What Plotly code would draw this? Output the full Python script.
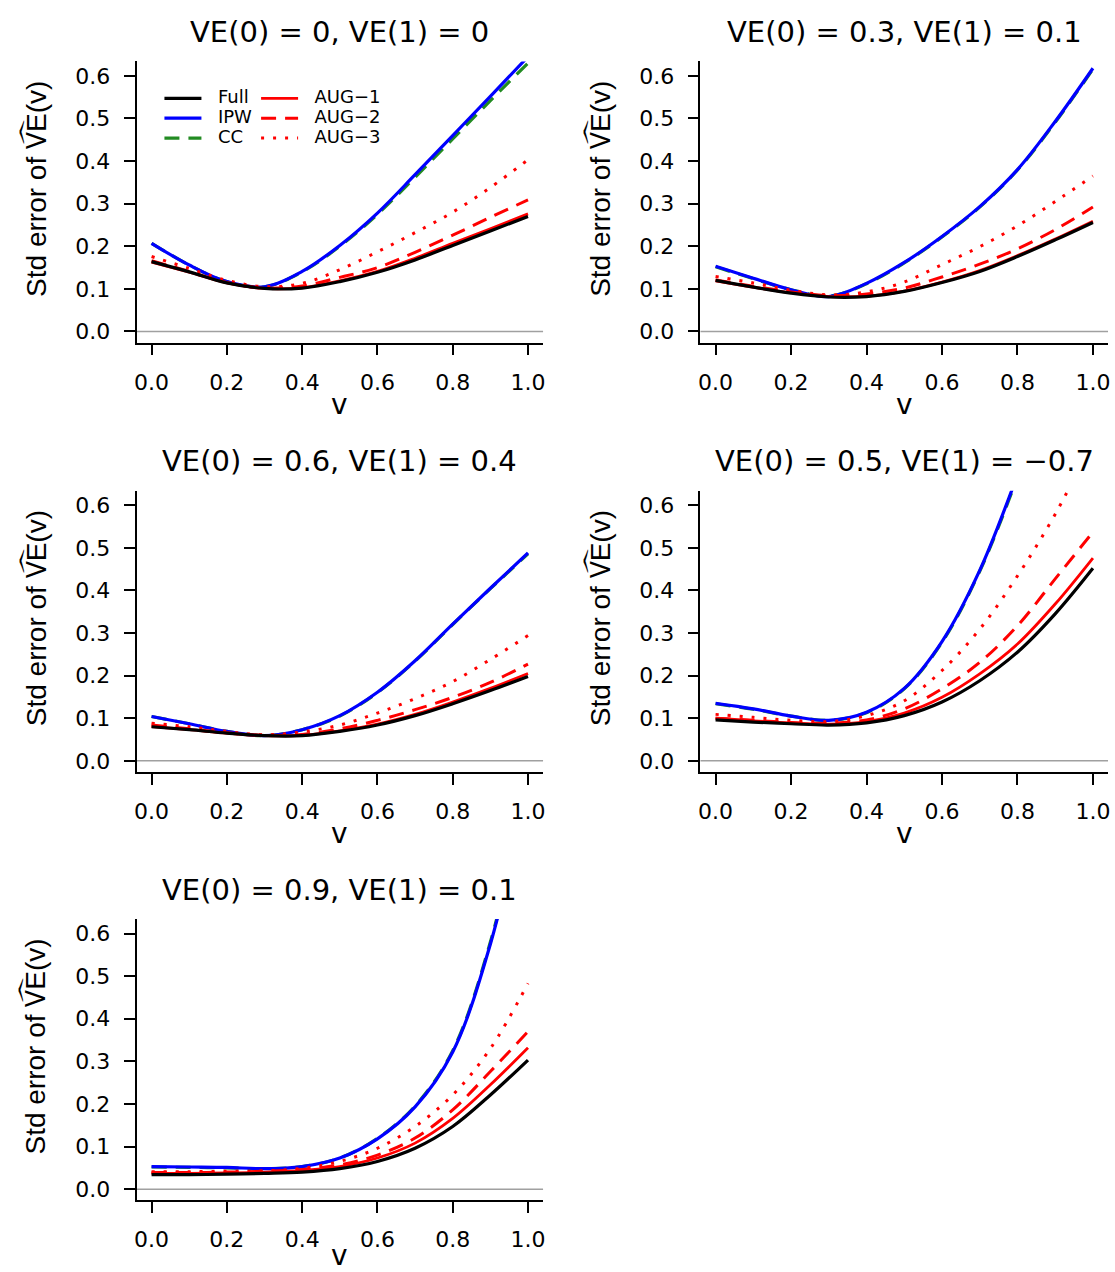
import plotly.graph_objects as go

# ---------------- data ----------------
v = [0.0, 0.1, 0.2, 0.3, 0.4, 0.5, 0.6, 0.7, 0.8, 0.9, 1.0]

titles = [
    "VE(0) = 0, VE(1) = 0",
    "VE(0) = 0.3, VE(1) = 0.1",
    "VE(0) = 0.6, VE(1) = 0.4",
    "VE(0) = 0.5, VE(1) = \u22120.7",
    "VE(0) = 0.9, VE(1) = 0.1",
]

series_names = ["Full", "IPW", "CC", "AUG\u22121", "AUG\u22122", "AUG\u22123"]

# panel 1: VE(0)=0, VE(1)=0
p1_full = [0.164, 0.140, 0.114, 0.101, 0.102, 0.117, 0.139, 0.168, 0.202, 0.236, 0.270]
p1_ipw  = [0.207, 0.156, 0.117, 0.105, 0.141, 0.202, 0.278, 0.368, 0.460, 0.552, 0.645]
p1_cc   = [0.207, 0.156, 0.117, 0.105, 0.140, 0.200, 0.275, 0.362, 0.452, 0.542, 0.630]
p1_aug1 = [0.163, 0.139, 0.114, 0.101, 0.103, 0.119, 0.141, 0.172, 0.207, 0.241, 0.276]
p1_aug2 = [0.166, 0.141, 0.115, 0.102, 0.107, 0.127, 0.150, 0.186, 0.226, 0.268, 0.309]
p1_aug3 = [0.176, 0.148, 0.120, 0.105, 0.113, 0.145, 0.187, 0.232, 0.280, 0.338, 0.403]

# panel 2: VE(0)=0.3, VE(1)=0.1
p2_full = [0.120, 0.104, 0.090, 0.081, 0.082, 0.094, 0.115, 0.141, 0.176, 0.215, 0.256]
p2_ipw  = [0.153, 0.125, 0.098, 0.082, 0.113, 0.162, 0.223, 0.293, 0.380, 0.493, 0.618]
p2_cc   = [0.152, 0.124, 0.098, 0.083, 0.112, 0.161, 0.222, 0.292, 0.379, 0.491, 0.616]
p2_aug1 = [0.119, 0.104, 0.091, 0.082, 0.083, 0.095, 0.116, 0.143, 0.178, 0.217, 0.259]
p2_aug2 = [0.121, 0.106, 0.093, 0.084, 0.088, 0.102, 0.128, 0.158, 0.194, 0.239, 0.292]
p2_aug3 = [0.129, 0.114, 0.097, 0.086, 0.093, 0.116, 0.157, 0.199, 0.248, 0.305, 0.365]

# panel 3: VE(0)=0.6, VE(1)=0.4
p3_full = [0.080, 0.073, 0.065, 0.059, 0.059, 0.069, 0.084, 0.106, 0.134, 0.165, 0.198]
p3_ipw  = [0.104, 0.087, 0.069, 0.059, 0.073, 0.106, 0.161, 0.235, 0.321, 0.405, 0.488]
p3_cc   = [0.104, 0.087, 0.069, 0.059, 0.073, 0.105, 0.160, 0.234, 0.320, 0.404, 0.486]
p3_aug1 = [0.080, 0.073, 0.065, 0.059, 0.060, 0.070, 0.086, 0.109, 0.138, 0.170, 0.205]
p3_aug2 = [0.084, 0.075, 0.066, 0.060, 0.062, 0.075, 0.095, 0.120, 0.149, 0.184, 0.227]
p3_aug3 = [0.088, 0.080, 0.069, 0.061, 0.068, 0.084, 0.112, 0.146, 0.186, 0.238, 0.294]

# panel 4: VE(0)=0.5, VE(1)=-0.7
p4_full = [0.096, 0.091, 0.087, 0.084, 0.089, 0.106, 0.138, 0.188, 0.255, 0.345, 0.452]
p4_ipw  = [0.135, 0.122, 0.105, 0.095, 0.114, 0.170, 0.280, 0.447, 0.670, 0.910, 1.160]
p4_cc   = [0.134, 0.121, 0.105, 0.095, 0.113, 0.169, 0.278, 0.445, 0.665, 0.905, 1.150]
p4_aug1 = [0.100, 0.094, 0.089, 0.086, 0.092, 0.112, 0.149, 0.204, 0.274, 0.368, 0.476]
p4_aug2 = [0.100, 0.095, 0.090, 0.088, 0.096, 0.122, 0.169, 0.231, 0.317, 0.427, 0.537]
p4_aug3 = [0.109, 0.102, 0.095, 0.092, 0.106, 0.141, 0.212, 0.309, 0.434, 0.579, 0.750]

# panel 5: VE(0)=0.9, VE(1)=0.1
p5_full = [0.034, 0.034, 0.035, 0.037, 0.040, 0.048, 0.065, 0.096, 0.147, 0.221, 0.303]
p5_ipw  = [0.053, 0.052, 0.051, 0.048, 0.053, 0.073, 0.118, 0.193, 0.322, 0.575, 0.950]
p5_cc   = [0.052, 0.051, 0.050, 0.048, 0.053, 0.073, 0.119, 0.195, 0.325, 0.580, 0.955]
p5_aug1 = [0.037, 0.037, 0.038, 0.040, 0.044, 0.053, 0.073, 0.108, 0.166, 0.245, 0.332]
p5_aug2 = [0.039, 0.039, 0.040, 0.042, 0.046, 0.057, 0.080, 0.120, 0.186, 0.276, 0.370]
p5_aug3 = [0.041, 0.041, 0.042, 0.043, 0.049, 0.065, 0.096, 0.147, 0.221, 0.330, 0.483]

y_ticks = [0.0, 0.1, 0.2, 0.3, 0.4, 0.5, 0.6]
x_ticks = [0.0, 0.2, 0.4, 0.6, 0.8, 1.0]

panels = [
    [p1_full, p1_ipw, p1_cc, p1_aug1, p1_aug2, p1_aug3],
    [p2_full, p2_ipw, p2_cc, p2_aug1, p2_aug2, p2_aug3],
    [p3_full, p3_ipw, p3_cc, p3_aug1, p3_aug2, p3_aug3],
    [p4_full, p4_ipw, p4_cc, p4_aug1, p4_aug2, p4_aug3],
    [p5_full, p5_ipw, p5_cc, p5_aug1, p5_aug2, p5_aug3],
]

# ---------------- style ----------------
FONT = "DejaVu Sans, Verdana, sans-serif"
FONT_Y = "Liberation Sans, Arial, Helvetica, sans-serif"
W, H = 1115, 1272

styles = [
    dict(color="#000000", dash="solid", width=3.2),        # Full
    dict(color="#0000FF", dash="solid", width=3.2),        # IPW
    dict(color="#228B22", dash="15px,9px", width=3.2),     # CC
    dict(color="#FF0000", dash="solid", width=2.8),        # AUG-1
    dict(color="#FF0000", dash="15px,9px", width=3.0),     # AUG-2
    dict(color="#FF0000", dash="3px,9px", width=3.0),      # AUG-3
]
legend_of = ["legend", "legend", "legend", "legend2", "legend2", "legend2"]
legend_rank = [1, 2, 3, 1, 2, 3]
draw_order = [2, 1, 5, 4, 3, 0]

# pixel layout of plotting regions (left, right, top, bottom)
col_px = [(135, 543), (701, 1110)]
row_px = [(61.5, 343.1), (491.5, 773.1), (920.5, 1202.1)]
xlab_off = [62, 62, 55]
cells = [(0, 0), (0, 1), (1, 0), (1, 1), (2, 0)]

fig = go.Figure()

for k, (r, c) in enumerate(cells):
    xa = "x" if k == 0 else f"x{k+1}"
    ya = "y" if k == 0 else f"y{k+1}"
    for i in draw_order:
        st = styles[i]
        fig.add_trace(go.Scatter(
            x=v, y=panels[k][i], mode="lines",
            name=f'<span style="font-size:18px">\u00a0\u00a0{series_names[i]}</span>',
            line=dict(color=st["color"], dash=st["dash"], width=st["width"], shape="spline", smoothing=1.0),
            xaxis=xa, yaxis=ya, showlegend=(k == 0),
            legend=legend_of[i], legendrank=legend_rank[i], hoverinfo="skip",
        ))

    x0, x1 = col_px[c]
    t0, b0 = row_px[r]
    xdom = [x0 / W, x1 / W]
    ydom = [1 - b0 / H, 1 - t0 / H]
    axis_common = dict(showline=True, linecolor="black", linewidth=1.5, ticks="outside",
                       ticklen=11, tickwidth=1.5, tickcolor="black", showgrid=False,
                       zeroline=False, tickfont=dict(family=FONT, size=22, color="black"))
    xkey = "xaxis" if k == 0 else f"xaxis{k+1}"
    ykey = "yaxis" if k == 0 else f"yaxis{k+1}"
    fig.update_layout(**{
        xkey: dict(domain=xdom, anchor=ya, range=[-0.04, 1.04], tickvals=x_ticks,
                   tickformat=".1f", ticklabelstandoff=8, **axis_common),
        ykey: dict(domain=ydom, anchor=xa, range=[-0.026, 0.634], tickvals=y_ticks,
                   tickformat=".1f", ticklabelstandoff=9, **axis_common),
    })
    # grey reference line at zero
    fig.add_shape(type="line", xref=f"{xa} domain", x0=0, x1=1, yref=ya, y0=0, y1=0,
                  line=dict(color="#A0A0A0", width=1.5), layer="below")
    # panel title
    cx = (x0 + x1) / 2 / W
    fig.add_annotation(text=titles[k], x=cx, y=1 - (t0 - 29.5) / H, xref="paper", yref="paper",
                       xanchor="center", yanchor="middle", showarrow=False,
                       font=dict(family=FONT, size=29, color="black"))
    # y label
    fig.add_annotation(text="Std error of V\u1DCDE(v)", x=(x0 - 102) / W,
                       y=1 - ((t0 + b0) / 2 - 13) / H,
                       xref="paper", yref="paper", xanchor="center", yanchor="middle",
                       textangle=-90, showarrow=False,
                       font=dict(family=FONT_Y, size=28, color="black"))
    # x label
    fig.add_annotation(text="v", x=cx, y=1 - (b0 + xlab_off[r]) / H, xref="paper", yref="paper",
                       xanchor="center", yanchor="middle", showarrow=False,
                       font=dict(family=FONT, size=28, color="black"))

leg_common = dict(bgcolor="rgba(0,0,0,0)", borderwidth=0, xanchor="left", yanchor="top",
                  font=dict(family=FONT, size=13, color="black"), itemwidth=37,
                  tracegroupgap=0, traceorder="normal")
fig.update_layout(
    width=W, height=H, margin=dict(l=0, r=0, t=0, b=0),
    paper_bgcolor="white", plot_bgcolor="white",
    legend=dict(x=158 / W, y=1 - 83.5 / H, **leg_common),
    legend2=dict(x=255 / W, y=1 - 83.5 / H, **leg_common),
    font=dict(family=FONT, color="black"),
)

fig.write_html("out.html", config={"displayModeBar": False},
               post_script="document.body.style.margin='0px';"
                           "document.documentElement.style.overflow='hidden';")
